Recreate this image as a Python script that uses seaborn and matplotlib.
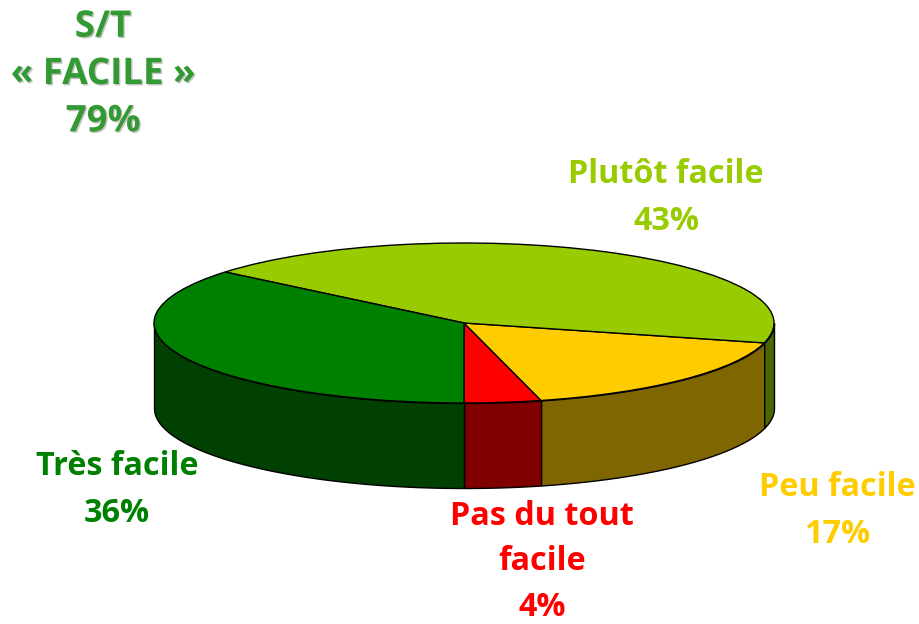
import numpy as np
import seaborn as sns
import matplotlib
matplotlib.use('Agg')
import matplotlib.pyplot as plt
import matplotlib.patheffects as pe

labels = ["Pas du tout\nfacile", "Peu facile", "Plutôt facile", "Très facile"]
values = [4, 17, 43, 36]
top_colors = ["#FF0000", "#FFCC00", "#99CC00", "#008000"]
side_colors = ["#800000", "#806600", "#4D6600", "#004000"]
summary = "S/T\n« FACILE »\n79%"

sns.set_theme(style="white")
plt.rcParams['font.family'] = ['Open Sans', 'DejaVu Sans']

W, H = 919, 624
fig = plt.figure(figsize=(W / 100, H / 100), dpi=100)

# unit circle squashed onto the ellipse of the top face
ax = fig.add_axes([154 / W, (H - 403) / H, 620 / W, 160 / H])
palette = sns.color_palette(top_colors)
ax.pie(values, colors=palette, startangle=270, counterclock=True,
       wedgeprops={'edgecolor': 'black', 'linewidth': 1.0, 'zorder': 5})
ax.set_aspect('auto')
ax.set_xlim(-1, 1)
ax.set_ylim(-1, 1)
ax.axis('off')

# side wall, only the front half shows
depth = 85 / 80
edges = 270 + np.cumsum([0] + values) * 3.6
for i in range(len(values)):
    for shift in (0, 360):
        s0, s1 = max(edges[i], 180 + shift), min(edges[i + 1], 360 + shift)
        if s1 <= s0:
            continue
        t = np.radians(np.linspace(s0, s1, 80))
        ax.fill_between(np.cos(t), np.sin(t), np.sin(t) - depth,
                        facecolor=side_colors[i], edgecolor='black',
                        linewidth=1.0, zorder=2, clip_on=False)


def label(x, y, s, color, size=23.3, spacing=1.57):
    return fig.text(x / W, 1 - y / H, s, color=color, ha='center', va='center',
                    fontsize=size, fontweight='bold', linespacing=spacing)


label(542, 562, labels[0] + "\n4%", top_colors[0], spacing=1.5)
label(837, 511, labels[1] + "\n17%", top_colors[1])
label(666, 198, labels[2] + "\n43%", top_colors[2])
label(117, 490, labels[3] + "\n36%", top_colors[3])

t = label(103, 74, summary, "#339933", size=26.4, spacing=1.32)
t.set_path_effects([pe.withSimplePatchShadow(offset=(1, -1), shadow_rgbFace='#aaaaaa', alpha=0.7)])

fig.savefig("out.png", dpi=100)
